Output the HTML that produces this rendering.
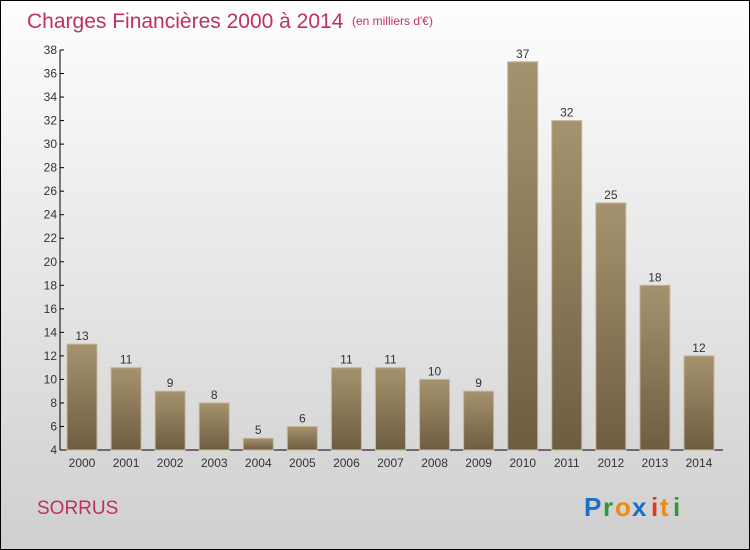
<!DOCTYPE html>
<html><head><meta charset="utf-8"><style>
body{margin:0}
#c{position:relative;width:748px;height:548px;border:1px solid #000;background:linear-gradient(#fefefe,#cfcfcf);font-family:"Liberation Sans",sans-serif;overflow:hidden}
</style></head><body>
<div id="c">
<svg width="748" height="548" xmlns="http://www.w3.org/2000/svg">
<defs><linearGradient id="bg" x1="0" y1="0" x2="0" y2="1"><stop offset="0" stop-color="#a5936f"/><stop offset="1" stop-color="#6e5d40"/></linearGradient></defs>
<text x="26" y="27" font-size="21" fill="#c0305e">Charges Financières 2000 à 2014</text>
<text x="351" y="24" font-size="12" fill="#c0305e">(en milliers d'€)</text>
<g id="axes"></g><g id="bars"></g>
<text x="36" y="513" font-size="19" fill="#c0305e">SORRUS</text>
<g font-size="26" font-weight="bold" font-family="Liberation Sans, sans-serif">
<text x="583" y="515" fill="#1a6fc8">P</text><text x="602" y="515" fill="#2a9a3a">r</text><text x="614" y="515" fill="#f08a10">o</text><text x="631" y="515" fill="#1a6fc8">x</text><text x="650" y="515" fill="#e03a10">i</text><text x="659" y="515" fill="#f08a10">t</text><text x="672" y="515" fill="#2a9a3a">i</text>
</g>
</svg></div>
<script>
const categories=["2000","2001","2002","2003","2004","2005","2006","2007","2008","2009","2010","2011","2012","2013","2014"];
const values=[13,11,9,8,5,6,11,11,10,9,37,32,25,18,12];
const yTicks=[4,6,8,10,12,14,16,18,20,22,24,26,28,30,32,34,36,38];
const NS="http://www.w3.org/2000/svg";
const y0=449,yTop=49,vMin=4,vMax=38;
const y=v=>y0-(v-vMin)/(vMax-vMin)*(y0-yTop);
const x=i=>81+i*44.07;
const ax=document.getElementById('axes'),bg=document.getElementById('bars');
function mk(t,a,p){const e=document.createElementNS(NS,t);for(const k in a)e.setAttribute(k,a[k]);p.appendChild(e);return e;}
let l=mk('line',{x1:59,y1:yTop,x2:59,y2:y0,stroke:'#000'},ax);


l=mk('line',{x1:59,y1:y0,x2:722,y2:y0,stroke:'#000'},ax);


yTicks.forEach(v=>{
 const t=mk('line',{x1:59,y1:y(v),x2:63,y2:y(v),stroke:'#000'},ax);
 
 
 const tx=mk('text',{x:56,y:y(v)+4,'text-anchor':'end','font-size':12,fill:'#333'},ax);
 tx.textContent=v;
 
 
});
categories.forEach((c,i)=>{
 const v=values[i],cx=x(i);
 const r=mk('rect',{x:cx-15,y:y(v),width:30,height:y0-y(v),fill:'url(#bg)',stroke:'#c8b898','stroke-width':1},bg);
 
 
 const vl=mk('text',{x:cx,y:y(v)-4,'text-anchor':'middle','font-size':12,fill:'#333'},bg);
 vl.textContent=v;
 
 
 const xl=mk('text',{x:cx,y:466,'text-anchor':'middle','font-size':12,fill:'#333'},bg);
 xl.textContent=c;
 
 
});
</script>
</body></html>
